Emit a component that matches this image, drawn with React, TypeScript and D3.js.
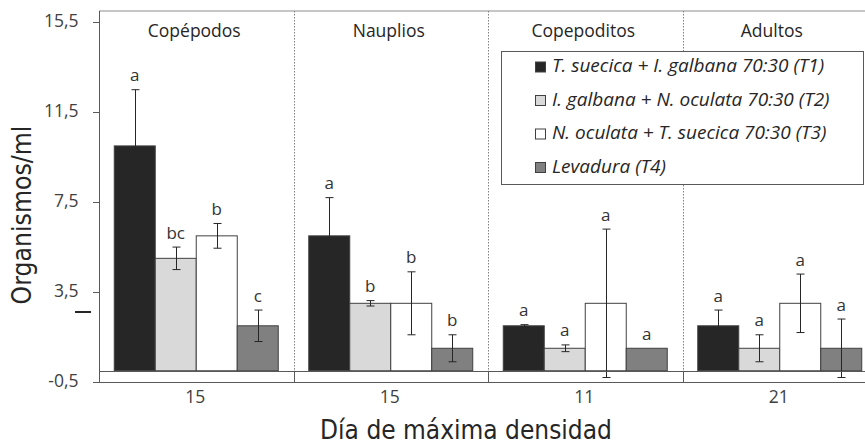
import React from "react";
import * as d3 from "d3";

const categories = ["Copépodos", "Nauplios", "Copepoditos", "Adultos"];
const dayLabels = ["15", "15", "11", "21"];
const seriesNames = [
  "T. suecica + I. galbana 70:30 (T1)",
  "I. galbana + N. oculata 70:30 (T2)",
  "N. oculata + T. suecica 70:30 (T3)",
  "Levadura (T4)",
];
const seriesColors = ["#262626", "#d9d9d9", "#ffffff", "#808080"];
// values[series][category]
const T1 = [10.0, 6.0, 2.0, 2.0];
const T2 = [5.0, 3.0, 1.0, 1.0];
const T3 = [6.0, 3.0, 3.0, 3.0];
const T4 = [2.0, 1.0, 1.0, 1.0];
const E1 = [2.5, 1.7, 0.05, 0.7];
const E2 = [0.5, 0.12, 0.15, 0.6];
const E3 = [0.55, 1.4, 3.3, 1.3];
const E4 = [0.7, 0.6, 0, 1.3];
const L1 = ["a", "a", "a", "a"];
const L2 = ["bc", "b", "a", "a"];
const L3 = ["b", "b", "a", "a"];
const L4 = ["c", "b", "a", "a"];
const yTicks = [-0.5, 3.5, 7.5, 11.5, 15.5];

const values = [T1, T2, T3, T4];
const errors = [E1, E2, E3, E4];
const letters = [L1, L2, L3, L4];

const W = 865;
const H = 446;
const left = 99;
const right = 877;
const top = 11;
const bottom = 382;

export default function App() {
  const y = d3.scaleLinear().domain([-0.5, 16]).range([bottom, top]);
  const x = d3.scaleBand<string>().domain(categories).range([left, right]).padding(0);
  const xi = d3
    .scaleBand<number>()
    .domain([0, 1, 2, 3])
    .range([0, x.bandwidth()])
    .paddingInner(0)
    .paddingOuter(0.372);
  const textColor = "#404040";
  const fmt = (v: number) => String(v).replace(".", ",");
  const y0 = y(0);

  return (
    <svg
      width={W}
      height={H}
      style={{ position: "absolute", left: 0, top: 0, background: "#fff" }}
      fontFamily="'Open Sans', sans-serif"
    >
      <rect x={0} y={0} width={W} height={H} fill="#fff" />
      {/* top border */}
      <line x1={left} x2={right} y1={top} y2={top} stroke="#8c8c8c" strokeWidth={1} />
      {/* dividers */}
      {categories.slice(1).map((c) => {
        const xx = Math.round(x(c)!) + 0.5;
        return (
          <g key={c}>
            <line x1={xx} x2={xx} y1={top} y2={y0} stroke="#7f7f7f" strokeWidth={1} strokeDasharray="1.5,1.5" />
            <line x1={xx} x2={xx} y1={y0} y2={bottom} stroke="#595959" strokeWidth={1} />
          </g>
        );
      })}
      {/* category titles */}
      {categories.map((c) => {
        const x0 = x(c)!;
        const x1 = Math.min(x0 + x.bandwidth(), W);
        return (
          <text key={c} x={(x0 + x1) / 2 - 2} y={32} textAnchor="middle" dominantBaseline="middle" fontSize={17.5} fill="#262626">
            {c}
          </text>
        );
      })}
      {/* bars */}
      {values.map((vals, s) =>
        vals.map((v, ci) => {
          const bx = x(categories[ci])! + xi(s)!;
          return (
            <rect
              key={`b${s}-${ci}`}
              x={bx}
              y={y(v)}
              width={xi.bandwidth()}
              height={y0 - y(v)}
              fill={seriesColors[s]}
              stroke="#404040"
              strokeWidth={1}
            />
          );
        })
      )}
      {/* error bars */}
      {values.map((vals, s) =>
        vals.map((v, ci) => {
          const e = errors[s][ci];
          if (!e) return null;
          const cx = Math.round(x(categories[ci])! + xi(s)! + xi.bandwidth() / 2) + 0.5;
          const yt = y(v + e);
          const yb = y(v - e);
          return (
            <g key={`e${s}-${ci}`} stroke="#262626" strokeWidth={1}>
              <line x1={cx} x2={cx} y1={yt} y2={yb} />
              <line x1={cx - 4} x2={cx + 4} y1={yt} y2={yt} />
              <line x1={cx - 4} x2={cx + 4} y1={yb} y2={yb} />
            </g>
          );
        })
      )}
      {/* significance letters */}
      {values.map((vals, s) =>
        vals.map((v, ci) => {
          const cx = x(categories[ci])! + xi(s)! + xi.bandwidth() / 2;
          const yt = y(v + errors[s][ci]);
          return (
            <text key={`l${s}-${ci}`} x={cx} y={yt - 13} textAnchor="middle" dominantBaseline="middle" fontSize={17} fill="#333">
              {letters[s][ci]}
            </text>
          );
        })
      )}
      {/* zero line */}
      <line x1={left} x2={right} y1={Math.round(y0) + 0.5} y2={Math.round(y0) + 0.5} stroke="#595959" strokeWidth={1} />
      {/* bottom axis line */}
      <line x1={left} x2={right} y1={bottom + 0.5} y2={bottom + 0.5} stroke="#595959" strokeWidth={1} />
      {/* left axis */}
      <line x1={left + 0.5} x2={left + 0.5} y1={top} y2={bottom} stroke="#595959" strokeWidth={1} />
      {yTicks.map((t) => (
        <g key={t}>
          <line x1={left - 6} x2={left} y1={Math.round(y(t)) + 0.5} y2={Math.round(y(t)) + 0.5} stroke="#595959" />
          <text x={78.5} y={y(t)} textAnchor="end" dominantBaseline="middle" fontSize={17.5} fill={textColor}>
            {fmt(t)}
          </text>
        </g>
      ))}
      {/* x labels */}
      {categories.map((c, i) => (
        <text key={`d${c}`} x={x(c)! + x.bandwidth() / 2 - 1} y={398} textAnchor="middle" dominantBaseline="middle" fontSize={17.5} fill={textColor}>
          {dayLabels[i]}
        </text>
      ))}
      {/* axis titles */}
      <text x={466} y={431} textAnchor="middle" dominantBaseline="middle" fontSize={26} fill="#262626" fontFamily="'DejaVu Sans Condensed', 'DejaVu Sans', sans-serif">
        Día de máxima densidad
      </text>
      <text
        transform={`translate(23,215) rotate(-90)`}
        textAnchor="middle"
        dominantBaseline="middle"
        fontSize={26.3}
        fill="#262626"
        fontFamily="'DejaVu Sans Condensed', 'DejaVu Sans', sans-serif"
      >
        Organismos/ml
      </text>
      <line x1={75} x2={91} y1={312} y2={312} stroke="#262626" strokeWidth={2} />
      {/* legend */}
      <g>
        <rect x={501.5} y={51.5} width={362} height={133} fill="#fff" stroke="#595959" strokeWidth={1} />
        {seriesNames.map((n, i) => {
          const ry = 67 + i * 33.5;
          return (
            <g key={n}>
              <rect x={535.5} y={ry - 5} width={10} height={10} fill={seriesColors[i]} stroke="#404040" strokeWidth={1} />
              <text x={552} y={ry} dominantBaseline="middle" fontSize={19} fontStyle="italic" fill="#262626">
                {n}
              </text>
            </g>
          );
        })}
      </g>
    </svg>
  );
}
